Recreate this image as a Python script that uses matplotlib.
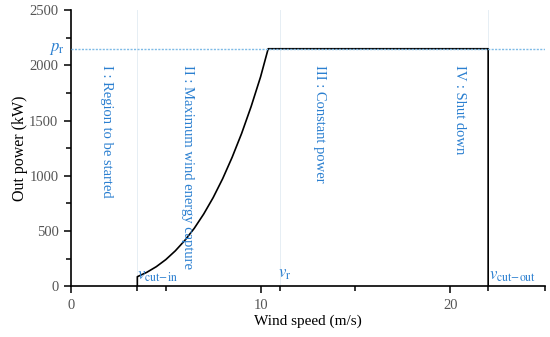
import numpy as np
import matplotlib.pyplot as plt

plt.rcParams['font.family'] = ['Liberation Serif', 'DejaVu Serif']
plt.rcParams['mathtext.fontset'] = 'stix'

# characteristic speeds (m/s) and rated power (kW)
v_cut_in = 3.5
v_rated = 11
v_cut_out = 22
p_rated = 2150

# power curve
speed = [3.5, 3.5, 4, 4.5, 5, 5.5, 6, 6.5, 7, 7.5, 8, 8.5, 9, 9.5, 10, 10.4, 22, 22]
power = [0, 85, 125, 176, 240, 319, 413, 523, 653, 802, 973, 1167, 1383, 1626, 1896, 2150, 2150, 0]

regions = ["I : Region to be started", "II : Maximum wind energy capture",
           "III : Constant power", "IV : Shut down"]
region_x = [1.9, 6.15, 13.1, 20.5]

blue = '#2a7fd0'

fig = plt.figure(figsize=(5.5, 3.37), dpi=100)
ax = fig.add_axes([0.129, 0.151, 0.862, 0.819])

for xv in [v_cut_in, v_rated, v_cut_out]:
    ax.axvline(xv, color='#e6eef4', lw=0.7, zorder=0)

ax.plot(speed, power, color='black', lw=1.2, zorder=2)
ax.axhline(p_rated, color='#7fbbe6', lw=1.0, ls=(0, (1.5, 1.0)), zorder=3)

for x, s in zip(region_x, regions):
    ax.text(x, 2000, s, rotation=-90, va='top', ha='center', color=blue, fontsize=10.5)

ax.text(v_cut_in, 15, r'$v_{\mathrm{cut\!-\!in}}$', color=blue, fontsize=12, va='bottom', ha='left')
ax.text(v_rated - 0.1, 40, r'$v_{\mathrm{r}}$', color=blue, fontsize=12, va='bottom', ha='left')
ax.text(v_cut_out + 0.05, 15, r'$v_{\mathrm{cut\!-\!out}}$', color=blue, fontsize=12, va='bottom', ha='left')
ax.text(-0.35, p_rated, r'$p_{\mathrm{r}}$', color=blue, fontsize=12, va='center', ha='right', clip_on=False)

ax.set_xlim(0, 25)
ax.set_ylim(0, 2500)
ax.set_xticks([0, 10, 20])
ax.set_xticks([v_cut_in, 5, v_rated, 15, v_cut_out, 25], minor=True)
ax.set_yticks([0, 500, 1000, 1500, 2000, 2500])
ax.set_yticks(np.arange(250, 2500, 500), minor=True)

for side in ['top', 'right']:
    ax.spines[side].set_visible(False)
for side in ['left', 'bottom']:
    ax.spines[side].set_linewidth(1.2)

ax.tick_params(which='major', length=5, width=1.1, labelsize=10.5, labelcolor='#555555')
ax.tick_params(axis='x', which='major', pad=4)
ax.tick_params(axis='y', which='major', pad=4)
ax.tick_params(which='minor', length=3.5, width=1.1)

ax.set_xlabel('Wind speed (m/s)', fontsize=11, labelpad=2)
ax.set_ylabel('Out power (kW)', fontsize=11.5, labelpad=1)

fig.savefig('out.png', dpi=100)
